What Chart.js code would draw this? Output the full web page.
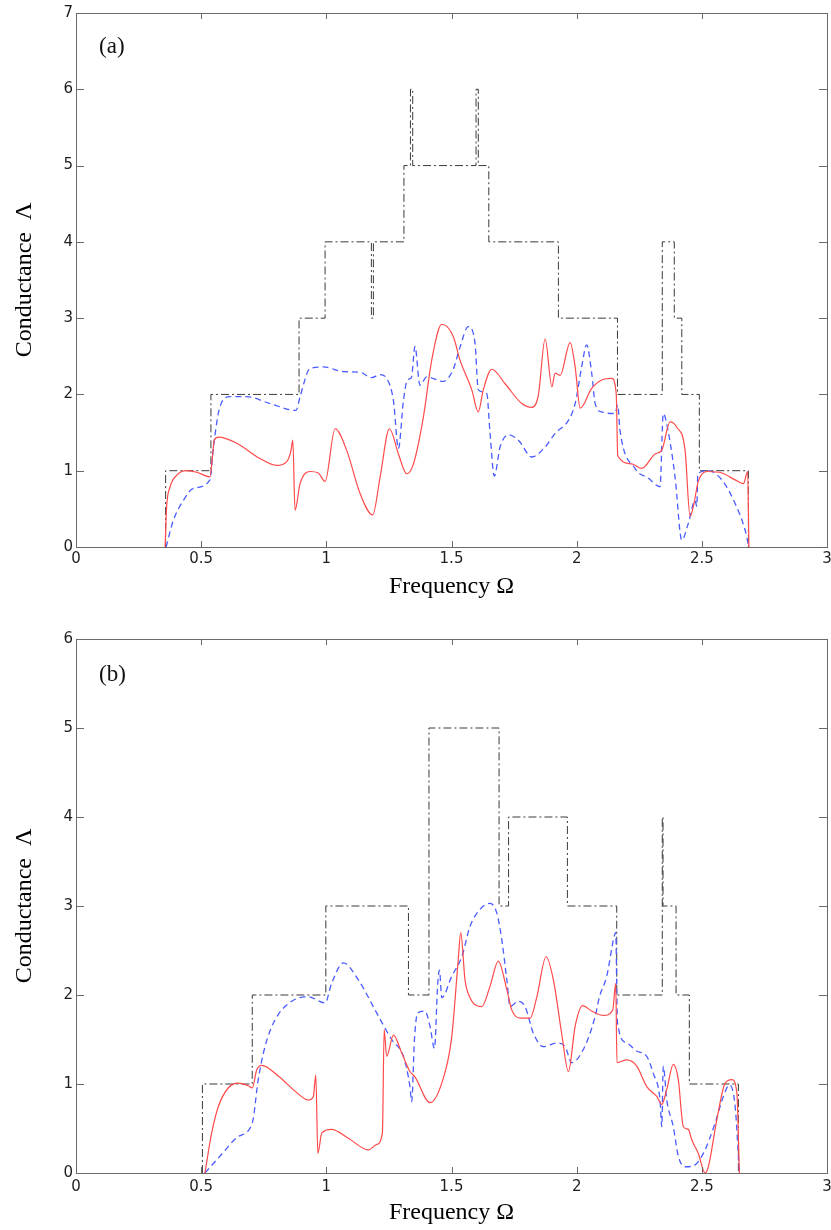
<!DOCTYPE html>
<html>
<head>
<meta charset="utf-8">
<script src="https://cdn.jsdelivr.net/npm/chart.js@4.4.1/dist/chart.umd.min.js"></script>
<style>
  html, body { margin: 0; padding: 0; background: #fff; }
  #wrap { position: relative; width: 831px; height: 1230px; }
  canvas { position: absolute; left: 0; }
  #chartA { top: 0; }
  #chartB { top: 615px; }
</style>
</head>
<body>
<div id="wrap">
  <canvas id="chartA" width="831" height="615"></canvas>
  <canvas id="chartB" width="831" height="615"></canvas>
</div>
<script>
// axis ticks
const freqTicks = [0, 0.5, 1, 1.5, 2, 2.5, 3];
const condTicksA = [0, 1, 2, 3, 4, 5, 6, 7];
const condTicksB = [0, 1, 2, 3, 4, 5, 6];

// panel (a): ideal step conductance (level holds from each x to the next)
const stepAx = [0.358, 0.358, 0.539, 0.891, 0.995, 1.180, 1.188, 1.310, 1.336, 1.345, 1.598, 1.607, 1.649, 1.927, 2.163, 2.342, 2.390, 2.420, 2.490, 2.686];
const stepAy = [0, 1, 2, 3, 4, 3, 4, 5, 6, 5, 6, 5, 4, 3, 2, 4, 3, 2, 1, 0];

// panel (a): solid red curve
const redAx = [0.356, 0.362, 0.376, 0.402, 0.442, 0.482, 0.535, 0.545, 0.552, 0.569, 0.642, 0.735, 0.802, 0.842, 0.858, 0.866, 0.875, 0.895, 0.935, 0.968, 0.995, 1.035, 1.081, 1.135, 1.185, 1.215, 1.252, 1.288, 1.321, 1.348, 1.388, 1.421, 1.461, 1.507, 1.534, 1.581, 1.607, 1.627, 1.661, 1.714, 1.781, 1.821, 1.847, 1.874, 1.901, 1.914, 1.934, 1.974, 1.994, 2.014, 2.060, 2.100, 2.140, 2.158, 2.164, 2.220, 2.260, 2.313, 2.340, 2.373, 2.400, 2.433, 2.453, 2.466, 2.486, 2.526, 2.580, 2.633, 2.666, 2.683, 2.688];
const redAy = [0, 0.52, 0.79, 0.94, 1.0, 0.98, 0.92, 1.18, 1.40, 1.44, 1.36, 1.16, 1.07, 1.12, 1.25, 1.40, 0.48, 0.83, 0.99, 0.97, 0.86, 1.55, 1.27, 0.70, 0.42, 0.92, 1.55, 1.22, 0.96, 1.09, 1.71, 2.45, 2.92, 2.76, 2.45, 2.06, 1.77, 2.06, 2.33, 2.14, 1.88, 1.83, 1.99, 2.73, 2.10, 2.28, 2.25, 2.68, 2.36, 1.82, 2.08, 2.19, 2.21, 2.01, 1.20, 1.09, 1.03, 1.22, 1.27, 1.64, 1.57, 1.27, 0.40, 0.53, 0.86, 0.99, 0.97, 0.88, 0.83, 0.99, 0];

// panel (a): dashed blue curve
const blueAx = [0.360, 0.389, 0.429, 0.469, 0.535, 0.549, 0.575, 0.615, 0.682, 0.775, 0.879, 0.895, 0.935, 0.988, 1.068, 1.135, 1.181, 1.215, 1.241, 1.268, 1.288, 1.308, 1.324, 1.340, 1.354, 1.374, 1.401, 1.467, 1.507, 1.534, 1.567, 1.594, 1.607, 1.641, 1.654, 1.671, 1.694, 1.727, 1.767, 1.821, 1.874, 1.914, 1.967, 1.994, 2.020, 2.040, 2.060, 2.074, 2.100, 2.153, 2.164, 2.173, 2.233, 2.287, 2.333, 2.346, 2.367, 2.393, 2.420, 2.446, 2.473, 2.480, 2.484, 2.526, 2.580, 2.633, 2.673, 2.688];
const blueAy = [0, 0.35, 0.61, 0.77, 0.88, 1.31, 1.84, 1.97, 1.97, 1.88, 1.79, 1.97, 2.34, 2.36, 2.30, 2.29, 2.22, 2.26, 2.21, 1.92, 1.29, 1.92, 2.19, 2.22, 2.63, 2.12, 2.23, 2.17, 2.33, 2.62, 2.89, 2.67, 2.06, 2.01, 1.49, 0.93, 1.31, 1.47, 1.40, 1.18, 1.31, 1.49, 1.66, 1.88, 2.36, 2.65, 2.28, 1.88, 1.77, 1.75, 1.86, 1.53, 1.03, 0.90, 0.79, 1.75, 1.49, 0.92, 0.09, 0.31, 0.61, 0.53, 0.96, 1.0, 0.88, 0.57, 0.22, 0];

// panel (b): ideal step conductance
const stepBx = [0.505, 0.505, 0.704, 0.998, 1.328, 1.410, 1.690, 1.728, 1.963, 2.160, 2.342, 2.345, 2.397, 2.450, 2.646];
const stepBy = [0, 1, 2, 3, 2, 5, 3, 4, 3, 2, 4, 3, 2, 1, 0];

// panel (b): solid red curve
const redBx = [0.515, 0.542, 0.569, 0.608, 0.648, 0.688, 0.704, 0.722, 0.742, 0.808, 0.875, 0.928, 0.948, 0.958, 0.966, 0.982, 1.021, 1.088, 1.168, 1.201, 1.224, 1.231, 1.241, 1.268, 1.301, 1.334, 1.354, 1.414, 1.461, 1.501, 1.527, 1.537, 1.554, 1.574, 1.621, 1.654, 1.687, 1.721, 1.741, 1.774, 1.814, 1.841, 1.878, 1.907, 1.940, 1.967, 1.994, 2.024, 2.060, 2.107, 2.144, 2.156, 2.161, 2.200, 2.240, 2.280, 2.320, 2.340, 2.360, 2.386, 2.406, 2.426, 2.446, 2.460, 2.486, 2.513, 2.526, 2.560, 2.593, 2.620, 2.640, 2.650];
const redBy = [0, 0.45, 0.75, 0.955, 1.01, 0.98, 0.955, 1.16, 1.21, 1.09, 0.92, 0.82, 0.86, 1.10, 0.22, 0.45, 0.49, 0.39, 0.26, 0.32, 0.45, 1.61, 1.31, 1.55, 1.35, 1.14, 1.08, 0.79, 1.01, 1.53, 2.40, 2.70, 2.17, 1.97, 1.87, 2.10, 2.38, 2.06, 1.83, 1.74, 1.74, 1.98, 2.43, 2.17, 1.57, 1.14, 1.65, 1.88, 1.82, 1.77, 1.83, 2.13, 1.24, 1.27, 1.20, 0.97, 0.86, 0.77, 0.94, 1.22, 1.05, 0.52, 0.49, 0.37, 0.22, 0, 0.07, 0.60, 1.01, 1.05, 0.90, 0];

// panel (b): dashed blue curve
const blueBx = [0.515, 0.582, 0.648, 0.704, 0.728, 0.755, 0.795, 0.862, 0.928, 0.995, 1.021, 1.068, 1.128, 1.195, 1.261, 1.308, 1.334, 1.341, 1.352, 1.365, 1.394, 1.414, 1.432, 1.445, 1.452, 1.461, 1.501, 1.541, 1.574, 1.610, 1.654, 1.681, 1.701, 1.721, 1.734, 1.767, 1.794, 1.827, 1.867, 1.921, 1.954, 1.980, 2.027, 2.074, 2.091, 2.120, 2.150, 2.156, 2.163, 2.200, 2.240, 2.280, 2.306, 2.333, 2.340, 2.346, 2.360, 2.386, 2.406, 2.433, 2.466, 2.506, 2.553, 2.586, 2.610, 2.633, 2.650];
const blueBy = [0, 0.21, 0.41, 0.56, 1.05, 1.42, 1.72, 1.93, 1.98, 1.91, 2.13, 2.36, 2.17, 1.83, 1.50, 1.31, 0.97, 0.80, 1.50, 1.80, 1.82, 1.65, 1.40, 2.13, 2.28, 1.97, 2.21, 2.43, 2.77, 2.95, 3.03, 2.92, 2.62, 2.17, 1.87, 1.93, 1.87, 1.57, 1.42, 1.46, 1.42, 1.24, 1.39, 1.76, 1.98, 2.21, 2.66, 2.70, 1.69, 1.46, 1.37, 1.31, 1.12, 0.82, 0.52, 1.20, 0.82, 0.52, 0.19, 0.07, 0.08, 0.22, 0.56, 0.86, 0.99, 0.75, 0];

function toPoints(xs, ys) {
    return xs.map((x, i) => ({ x: x, y: ys[i] }));
}

const tickFont = { family: '"DejaVu Sans", sans-serif', size: 15 };
const titleFont = { family: '"Liberation Serif", "Times New Roman", serif', size: 24 };

// box frame with inward ticks on all four sides, plus the panel tag
const boxAxes = {
    id: 'boxAxes',
    afterDraw(chart, args, opts) {
        const { ctx, chartArea: a, scales: { x, y } } = chart;
        ctx.save();
        ctx.strokeStyle = '#6a6a6a';
        ctx.lineWidth = 1;
        ctx.beginPath();
        x.ticks.forEach(t => {
            const px = Math.round(x.getPixelForValue(t.value)) + 0.5;
            ctx.moveTo(px, a.bottom); ctx.lineTo(px, a.bottom - 6);
            ctx.moveTo(px, a.top); ctx.lineTo(px, a.top + 6);
        });
        y.ticks.forEach(t => {
            const py = Math.round(y.getPixelForValue(t.value)) + 0.5;
            ctx.moveTo(a.left, py); ctx.lineTo(a.left + 8, py);
            ctx.moveTo(a.right, py); ctx.lineTo(a.right - 8, py);
        });
        ctx.stroke();
        ctx.strokeRect(a.left + 0.5, a.top + 0.5, a.right - a.left, a.bottom - a.top);

        ctx.fillStyle = '#111';
        ctx.font = '23px "Liberation Serif", "Times New Roman", serif';
        ctx.textBaseline = 'alphabetic';
        ctx.fillText(opts.tag, x.getPixelForValue(opts.tagX), y.getPixelForValue(opts.tagY));
        ctx.restore();
    }
};

function buildDatasets(stepX, stepY, redX, redY, blueX, blueY) {
    return [{
        data: toPoints(redX, redY),
        showLine: true,
        borderColor: '#ff4a4a',
        borderWidth: 1.2,
        pointRadius: 0,
        cubicInterpolationMode: 'monotone'
    }, {
        data: toPoints(blueX, blueY),
        showLine: true,
        borderColor: '#4a5cff',
        borderWidth: 1.3,
        borderDash: [6, 4],
        pointRadius: 0,
        cubicInterpolationMode: 'monotone'
    }, {
        data: toPoints(stepX, stepY),
        showLine: true,
        stepped: true,
        borderColor: '#3a3a3a',
        borderWidth: 1,
        borderDash: [8, 3, 2, 3],
        pointRadius: 0
    }];
}

function buildOptions(p) {
    return {
        responsive: false,
        animation: false,
        devicePixelRatio: 1,
        layout: { padding: { top: p.top, right: 4, bottom: 0, left: 0 } },
        plugins: {
            legend: { display: false },
            tooltip: { enabled: false },
            boxAxes: { tag: p.tag, tagX: p.tagX, tagY: p.tagY }
        },
        scales: {
            x: {
                type: 'linear',
                min: 0,
                max: 3,
                afterBuildTicks: s => { s.ticks = freqTicks.map(v => ({ value: v })); },
                afterFit: s => { s.height = p.xHeight; s.paddingLeft = 0; s.paddingRight = 0; },
                grid: { display: false, drawTicks: false },
                border: { display: false },
                ticks: { padding: p.xTickPad, color: '#1e1e1e', font: tickFont, maxRotation: 0, callback: v => String(v) },
                title: { display: true, text: 'Frequency Ω', color: '#000', font: titleFont, padding: { top: 0, bottom: p.xTitlePad } }
            },
            y: {
                type: 'linear',
                min: 0,
                max: p.yMax,
                afterBuildTicks: s => { s.ticks = p.yTicks.map(v => ({ value: v })); },
                afterFit: s => { s.width = 76; },
                grid: { display: false, drawTicks: false },
                border: { display: false },
                ticks: { padding: 3, color: '#1e1e1e', font: tickFont, callback: v => String(v) },
                title: { display: true, text: 'Conductance  Λ', color: '#000', font: titleFont, padding: { top: 10, bottom: 0 } }
            }
        }
    };
}

new Chart(document.getElementById('chartA'), {
    type: 'scatter',
    data: { datasets: buildDatasets(stepAx, stepAy, redAx, redAy, blueAx, blueAy) },
    options: buildOptions({ top: 13, xHeight: 68, xTickPad: 3, xTitlePad: 13.6, yMax: 7, yTicks: condTicksA, tag: '(a)', tagX: 0.092, tagY: 6.47 }),
    plugins: [boxAxes]
});

new Chart(document.getElementById('chartB'), {
    type: 'scatter',
    data: { datasets: buildDatasets(stepBx, stepBy, redBx, redBy, blueBx, blueBy) },
    options: buildOptions({ top: 24, xHeight: 57, xTickPad: 5, xTitlePad: 2.6, yMax: 6, yTicks: condTicksB, tag: '(b)', tagX: 0.092, tagY: 5.53 }),
    plugins: [boxAxes]
});
</script>
</body>
</html>
